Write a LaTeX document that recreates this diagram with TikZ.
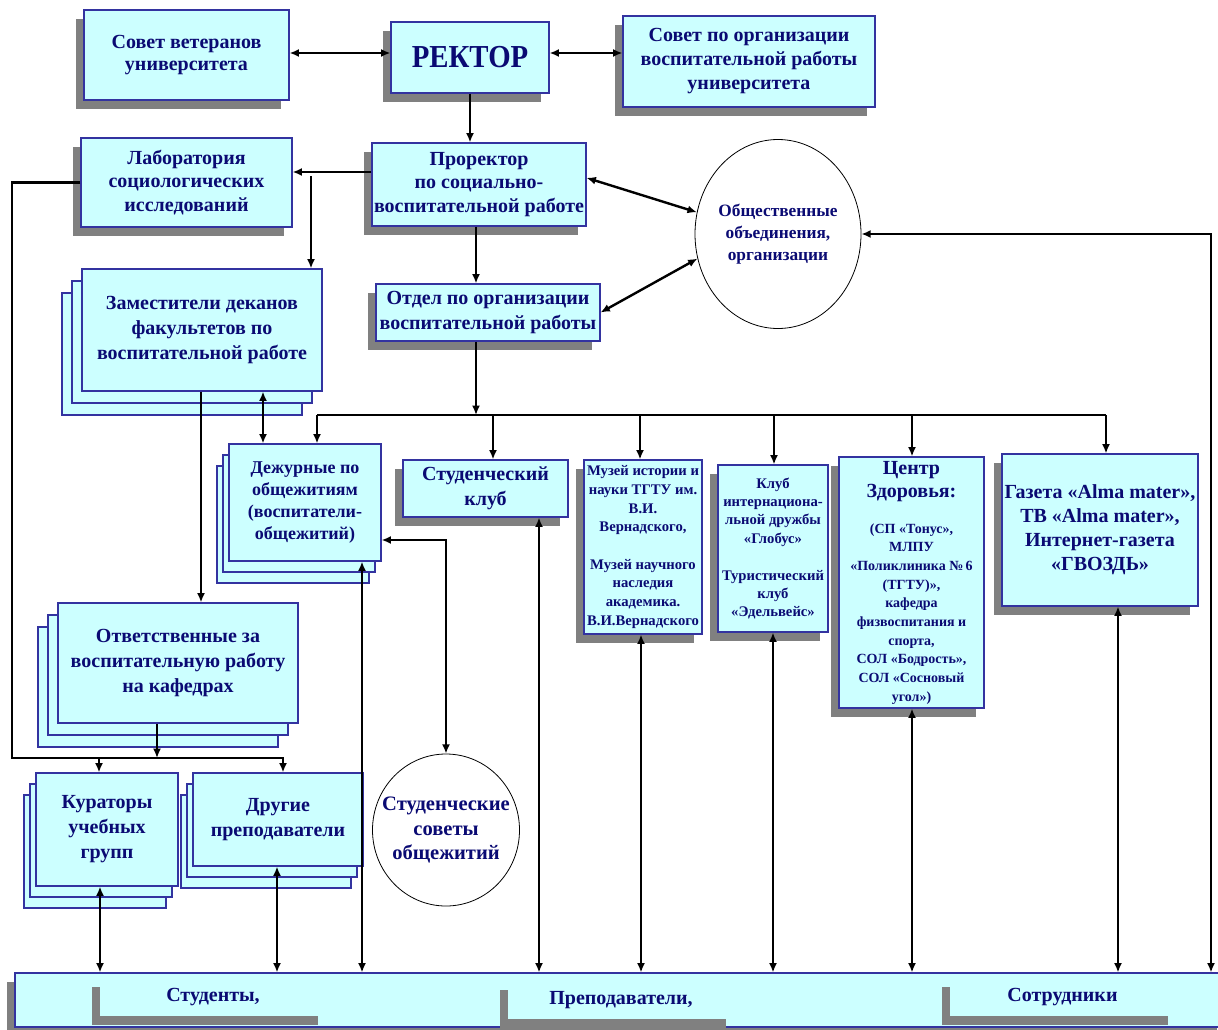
\documentclass[tikz,border=0pt]{standalone}
\usepackage{fontspec}
\setmainfont{Liberation Serif}
\usepackage{graphicx}
\usepackage{tikz}
\usetikzlibrary{arrows.meta}
\usetikzlibrary{shapes.geometric}
\usetikzlibrary{shadows}
\definecolor{boxfill}{RGB}{204,255,255}
\definecolor{boxline}{RGB}{51,51,160}
\definecolor{ink}{RGB}{10,10,115}
\definecolor{shade}{RGB}{128,128,128}
\newcommand{\fsz}[2]{\bfseries\fontsize{#1}{#2}\selectfont}

\begin{document}
\begin{tikzpicture}[x=0.75pt, y=-0.75pt,
    >={Latex[length=7pt,width=6pt]},
    box/.style={draw=boxline, line width=0.8pt, fill=boxfill, text=ink, align=center, inner sep=0pt, font=\fsz{15}{18}},
    shadowed/.style={drop shadow={shadow xshift=-6pt, shadow yshift=-6.75pt, fill=shade, draw=none, opacity=1}},
    stack/.style={copy shadow={shadow xshift=-15pt, shadow yshift=-18pt}, copy shadow={shadow xshift=-7.5pt, shadow yshift=-9pt}},
    thinstack/.style={copy shadow={shadow xshift=-9pt, shadow yshift=-16.5pt}, copy shadow={shadow xshift=-4.5pt, shadow yshift=-8.25pt}},
    oval/.style={ellipse, draw, line width=0.6pt, fill=white, text=ink, align=center, inner xsep=-12pt, inner ysep=0pt},
    tag/.style={fill=boxfill, shadowed, text=ink, font=\fsz{15}{18}, minimum width=169.5pt, minimum height=28.5pt, inner sep=0pt},
    conn/.style={line width=1.8pt}]
  \useasboundingbox (0,0) rectangle (1218,1029);

  % top
  \node[box, shadowed, minimum width=153.75pt, minimum height=67.5pt, font=\fsz{15}{16}] (veterans) at (186.5,55) {Совет ветеранов\\университета};
  \node[box, shadowed, minimum width=118.5pt, minimum height=53.25pt, font=\fsz{24}{28}] (rector) at (470,57.5) {\scalebox{0.9}[1]{РЕКТОР}};
  \node[box, shadowed, minimum width=189pt, minimum height=68.25pt] (eduboard) at (749,61.5) {Совет по организации\\воспитательной работы\\университета};
  \node[box, shadowed, minimum width=158.25pt, minimum height=66.75pt, font=\fsz{15}{17.6}] (socilab) at (186.5,182.5) {Лаборатория\\социологических\\исследований};
  \node[box, shadowed, minimum width=160.5pt, minimum height=62.25pt, font=\fsz{15}{17.6}] (prorector) at (479,184.5) {Проректор\\по социально-\\воспитательной работе};
  \node[oval, minimum width=124.5pt, minimum height=141.75pt, font=\fsz{13}{16.5}] (publicorg) at (778,234) {Общественные\\объединения,\\организации};
  \node[box, stack, minimum width=180pt, minimum height=91.5pt, font=\fsz{15}{18.75}] (deputies) at (202,330) {Заместители деканов\\факультетов по\\воспитательной работе};
  \node[box, shadowed, minimum width=168pt, minimum height=42.75pt, font=\fsz{15}{19.5}] (department) at (488,312.5) {Отдел по организации\\воспитательной работы};

  % middle row
  \node[box, thinstack, minimum width=114pt, minimum height=87.75pt, font=\fsz{13.5}{16.3}] (wardens) at (305,502.5) {Дежурные по\\общежитиям\\(воспитатели-\\общежитий)};
  \node[box, shadowed, minimum width=123.75pt, minimum height=42.75pt, font=\fsz{15}{18.75}] (studclub) at (485.5,488.5) {Студенческий\\клуб};
  \node[box, shadowed, minimum width=88.5pt, minimum height=130.5pt, font=\fsz{11}{14}] (museums) at (643,547) {Музей истории и\\науки ТГТУ им.\\В.И.\\Вернадского,\\[14pt]Музей научного\\наследия\\академика.\\В.И.Вернадского};
  \node[box, shadowed, minimum width=82.5pt, minimum height=125.25pt, font=\fsz{11}{13.8}] (globeclub) at (773,548.5) {Клуб\\интернациона-\\льной дружбы\\«Глобус»\\[13.8pt]Туристический\\клуб\\«Эдельвейс»};
  \node[box, shadowed, minimum width=108.75pt, minimum height=188.25pt, font=\fsz{10.5}{14}] (health) at (911.5,582.5) {{\fsz{15}{18}Центр}\\[3.25pt]{\fsz{15}{18}Здоровья:}\\[13pt](СП «Тонус»,\\МЛПУ\\«Поликлиника №\,6\\(ТГТУ)»,\\кафедра\\физвоспитания и\\спорта,\\СОЛ «Бодрость»,\\СОЛ «Сосновый\\угол»)};
  \node[box, shadowed, minimum width=147pt, minimum height=114pt] (media) at (1100,530) {Газета «Alma mater»,\\ТВ «Alma mater»,\\Интернет-газета\\«ГВОЗДЬ»};

  % lower left
  \node[box, stack, minimum width=180pt, minimum height=90pt, font=\fsz{15}{18.4}] (respons) at (178,663) {Ответственные за\\воспитательную работу\\на кафедрах};
  \node[box, thinstack, minimum width=127.5pt, minimum height=69.75pt, font=\fsz{15}{18.75}] (teachers) at (278,819.5) {Другие\\преподаватели};
  \node[box, thinstack, minimum width=106.5pt, minimum height=84.75pt, font=\fsz{15}{18.75}] (curators) at (107,829.5) {Кураторы\\учебных\\групп};
  \node[oval, minimum width=110.25pt, minimum height=114pt, font=\fsz{15.4}{18.4}] (dormcouncil) at (446,830) {Студенческие\\советы\\общежитий};

  % bottom bar
  \node[box, shadowed, minimum width=907.5pt, minimum height=40.5pt] (community) at (620,1000) {};
  \node[tag] (students) at (213,997) {Студенты,};
  \node[tag] (staff) at (621,1000) {Преподаватели,};
  \node[tag] (employees) at (1062.5,997) {Сотрудники};

  % connectors
  \draw[conn, <->] (veterans.east |- 0,53) -- (rector.west |- 0,53);
  \draw[conn, <->] (rector.east |- 0,53) -- (eduboard.west |- 0,53);
  \draw[conn, ->] (rector.south) -- (rector.south |- prorector.north);
  \draw[conn, ->] (prorector.west |- 0,172) -- (socilab.east |- 0,172);
  \coordinate (labdrop) at (311,176);
  \draw[conn, ->] (labdrop) -- (labdrop |- deputies.north);
  \draw[conn, <->] ([yshift=5pt]prorector.east) -- (publicorg.165);
  \draw[conn, <->] (department.east) -- (publicorg.197);
  \coordinate (spine) at (476,0);
  \draw[conn, ->] (prorector.south -| spine) -- (department.north -| spine);

  \coordinate (busleft) at (317,415);
  \coordinate (busright) at (1106,415);
  \draw[conn] (busleft) -- (busright);
  \draw[conn, ->] (department.south -| spine) -- (spine |- busleft);
  \foreach \name/\x in {wardens/317, studclub/493, museums/640, globeclub/774, health/912, media/1106}
    \draw[conn, ->] (\x,415) -- (\x,415 |- \name.north);

  \coordinate (rail) at (12,758);
  \draw[conn, ->] (socilab.west) -| (rail) -| (teachers.north -| 283,0);
  \draw[conn, ->] (rail -| 99,0) -- (curators.north -| 99,0);
  \draw[conn, ->] (respons.south -| 157,0) -- (rail -| 157,0);
  \draw[conn, ->] (deputies.south -| 201,0) -- (respons.north -| 201,0);
  \draw[conn, <->] (deputies.south -| 263,0) -- (wardens.north -| 263,0);
  \draw[conn, <->] (wardens.east |- 0,540) -| (dormcouncil.north);
  \draw[conn, <->] (community.north -| 1211,0) |- (publicorg.east);

  \foreach \name/\x in {curators/100, teachers/277, wardens/362, studclub/539, museums/641, globeclub/773, health/912, media/1118}
    \draw[conn, <->] (\name.south -| \x,0) -- (community.north -| \x,0);
\end{tikzpicture}
\end{document}
